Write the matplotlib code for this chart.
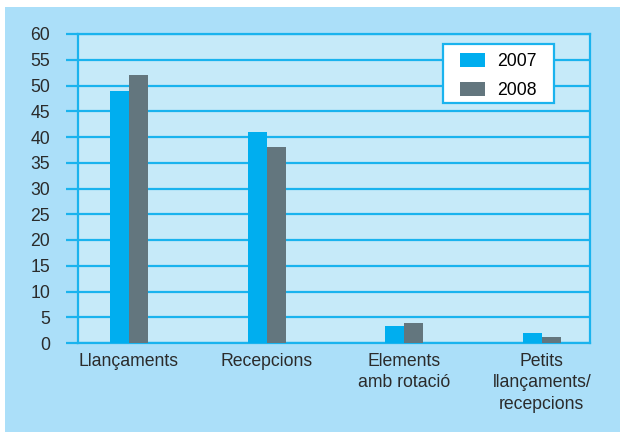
import matplotlib.pyplot as plt
import matplotlib.patches as mpatches
import numpy as np

categories = ["Llançaments", "Recepcions", "Elements\namb rotació", "Petits\nllançaments/\nrecepcions"]
series_2007 = [49, 41, 3.3, 2]
series_2008 = [52, 38, 3.9, 1.2]
years = ["2007", "2008"]

plt.rcParams['font.family'] = ['Liberation Sans', 'DejaVu Sans']

fig = plt.figure(figsize=(6.2, 4.32), dpi=100)
fig.patch.set_facecolor("white")
fig.patches.append(mpatches.Rectangle((5/620, 0), 1, 1 - 7/432, transform=fig.transFigure,
                                      facecolor="#abdff9", edgecolor="none", zorder=-1))

ax = fig.add_axes([78/620, 1 - 343/432, 512/620, 309/432])
ax.set_facecolor("#c6eaf9")

x = np.arange(len(categories))
w = 0.138
ax.bar(x - w/2, series_2007, w, color="#00aeef", label=years[0], zorder=3)
ax.bar(x + w/2, series_2008, w, color="#63767e", label=years[1], zorder=3)

ax.set_xlim(-0.37, 3.35)
ax.set_ylim(0, 60)
ax.set_yticks(np.arange(0, 61, 5))
ax.yaxis.grid(True, color="#1ab3ee", linewidth=1.6, zorder=1)
ax.set_axisbelow(True)
ax.tick_params(axis="y", length=9, width=1.6, color="#1ab3ee", labelsize=12.7, labelcolor="#2b2b2b", pad=11)
ax.tick_params(axis="x", length=0, labelsize=12.7, labelcolor="#2b2b2b", pad=7)
ax.set_xticks(x)
ax.set_xticklabels(categories, linespacing=1.35, va="top")
for s in ax.spines.values():
    s.set_color("#1ab3ee")
    s.set_linewidth(1.6)

# legend box drawn separately so its padding can match the original
ax.add_patch(mpatches.Rectangle((365/512, 240/309), 111/512, 59/309, transform=ax.transAxes,
                                facecolor="white", edgecolor="#1ab3ee", linewidth=1.6, zorder=5))
leg = ax.legend(loc="upper left", bbox_to_anchor=(382/512, 290/309), borderaxespad=0, borderpad=0,
                fontsize=12.7, frameon=False, handlelength=1.4, handleheight=0.8,
                labelspacing=0.7, handletextpad=0.7)
leg.set_zorder(6)

fig.savefig("out.png", dpi=100)
